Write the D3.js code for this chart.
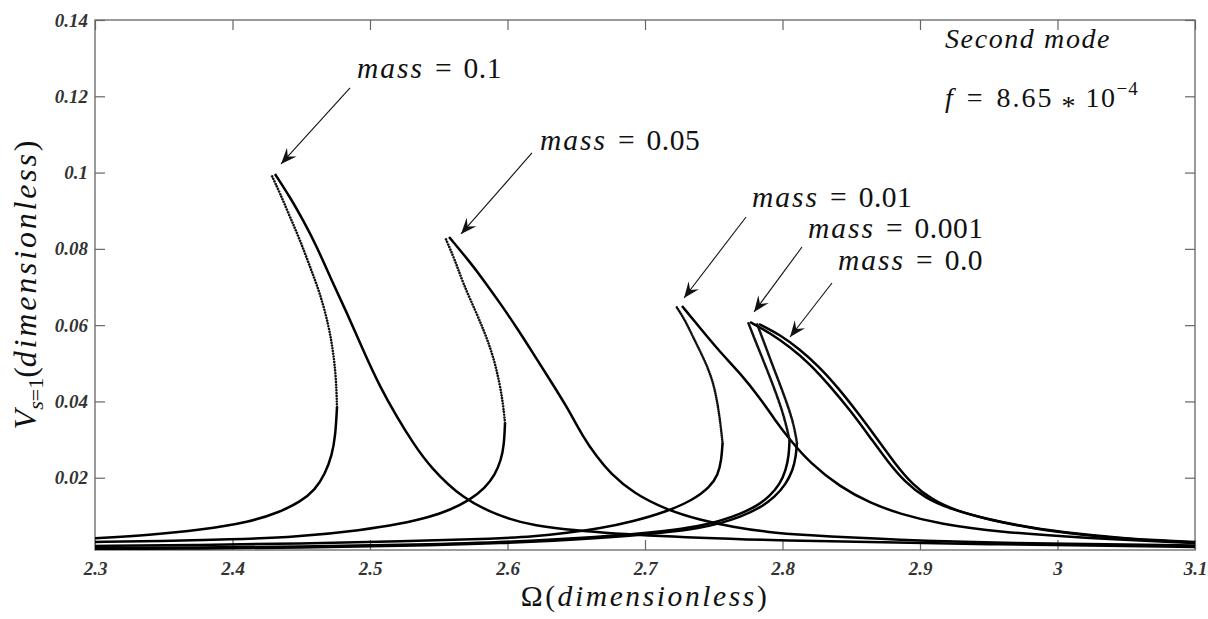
<!DOCTYPE html>
<head>
    <meta charset="utf-8">
    <title>Second mode - frequency response</title>
    <style>
        body { margin: 0; background: #fff; }
        svg { display: block; }
        .axis text { font-family: "Liberation Serif", "Times New Roman", serif; font-weight: bold; font-style: italic; font-size: 19px; fill: #333; }
        .axis line { stroke: #666; stroke-width: 1.2; }
        .axis path { display: none; }
        .tex { font-family: "Liberation Serif", "Times New Roman", serif; fill: #111; }
    </style>
</head>

<body>

<svg width="1208" height="619"></svg>

<script src="https://cdn.jsdelivr.net/npm/d3@7"></script>

<script>
    // tick values
    const xTicks = [2.3, 2.4, 2.5, 2.6, 2.7, 2.8, 2.9, 3.0, 3.1];
    const yTicks = [0.02, 0.04, 0.06, 0.08, 0.1, 0.12, 0.14];

    // [Omega, V]; each curve = lower stable, unstable (dotted), upper stable
    const mass01Lower = [[2.300, 0.00412], [2.340, 0.00498], [2.3764, 0.00629], [2.4127, 0.00839], [2.4345, 0.01101],
        [2.4491, 0.01363], [2.4600, 0.01678], [2.4673, 0.02098], [2.4724, 0.02596], [2.4749, 0.03120], [2.4760, 0.03854]];
    const mass01Unstable = [[2.4760, 0.03854], [2.4753, 0.04641], [2.4731, 0.05349], [2.4695, 0.06057], [2.4636, 0.06843],
        [2.4564, 0.07525], [2.4491, 0.08233], [2.4418, 0.08836], [2.4345, 0.09465], [2.4280, 0.09963]];
    const mass01Upper = [[2.4309, 0.09963], [2.4418, 0.09360], [2.4513, 0.08757], [2.4615, 0.08049], [2.4709, 0.07263],
        [2.4833, 0.06319], [2.4949, 0.05349], [2.5073, 0.04379], [2.5196, 0.03592], [2.5313, 0.02910], [2.5436, 0.02281],
        [2.5676, 0.01442], [2.5924, 0.01023], [2.6164, 0.00734], [2.6673, 0.00551], [2.7400, 0.00420], [2.8127, 0.00341],
        [2.9582, 0.00249], [3.1, 0.00184]];

    const mass005Lower = [[2.300, 0.00315], [2.3473, 0.00341], [2.3982, 0.00380], [2.4469, 0.00446], [2.4949, 0.00629],
        [2.5218, 0.00787], [2.5436, 0.00970], [2.5582, 0.01154], [2.5727, 0.01416], [2.5836, 0.01730], [2.5909, 0.02071],
        [2.5953, 0.02465], [2.5975, 0.02858], [2.5982, 0.03435]];
    const mass005Unstable = [[2.5982, 0.03435], [2.5967, 0.03959], [2.5938, 0.04562], [2.5895, 0.05191], [2.5836, 0.05794],
        [2.5764, 0.06397], [2.5676, 0.07105], [2.5618, 0.07708], [2.5545, 0.08311]];
    const mass005Upper = [[2.5575, 0.08311], [2.5727, 0.07656], [2.5836, 0.07132], [2.5945, 0.06581], [2.6069, 0.05926],
        [2.6185, 0.05270], [2.6309, 0.04562], [2.6433, 0.03854], [2.6549, 0.03068], [2.6651, 0.02543], [2.6745, 0.02124],
        [2.6913, 0.01599], [2.7160, 0.01154], [2.7400, 0.00891], [2.7640, 0.00708], [2.7887, 0.00577], [2.8127, 0.00498],
        [2.8855, 0.00367], [2.9582, 0.00288], [3.1, 0.00223]];

    const mass001Lower = [[2.300, 0.00210], [2.3764, 0.00236], [2.4491, 0.00275], [2.5218, 0.00328], [2.5945, 0.00406],
        [2.6185, 0.00459], [2.6433, 0.00551], [2.6673, 0.00669], [2.6913, 0.00852], [2.7160, 0.01114], [2.7349, 0.01416],
        [2.7473, 0.01757], [2.7531, 0.02071], [2.7556, 0.02465], [2.7564, 0.02910]];
    const mass001Unstable = [[2.7564, 0.02910], [2.7556, 0.03173], [2.7545, 0.03513], [2.7531, 0.03854], [2.7509, 0.04300],
        [2.7473, 0.04746], [2.7415, 0.05218], [2.7349, 0.05690], [2.7291, 0.06135], [2.7225, 0.06502]];
    const mass001Upper = [[2.7269, 0.06502], [2.7400, 0.05926], [2.7545, 0.05296], [2.7691, 0.04746], [2.7836, 0.04090],
        [2.7945, 0.03513], [2.8055, 0.02989], [2.8200, 0.02386], [2.8418, 0.01757], [2.8636, 0.01337], [2.8855, 0.01049],
        [2.9145, 0.00787], [2.9582, 0.00577], [3.0164, 0.00420], [3.1, 0.00288]];

    const mass0001Lower = [[2.300, 0.00157], [2.3764, 0.00170], [2.4491, 0.00197], [2.5218, 0.00236], [2.5945, 0.00302],
        [2.6673, 0.00446], [2.7160, 0.00603], [2.7400, 0.00734], [2.7545, 0.00865], [2.7691, 0.01049], [2.7815, 0.01259],
        [2.7909, 0.01521], [2.7982, 0.01835], [2.8025, 0.02202], [2.8047, 0.02596], [2.8051, 0.02989]];
    const mass0001Unstable = [[2.8051, 0.02989], [2.8025, 0.03408], [2.7989, 0.03854], [2.7931, 0.04431], [2.7865, 0.05034],
        [2.7800, 0.05611], [2.7749, 0.06083]];
    const mass0001Upper = [[2.7764, 0.06083], [2.7909, 0.05794], [2.8055, 0.05427], [2.8200, 0.04982], [2.8345, 0.04405],
        [2.8491, 0.03776], [2.8636, 0.03068], [2.8767, 0.02412], [2.8891, 0.01888], [2.9036, 0.01468], [2.9218, 0.01180],
        [2.9458, 0.00944], [2.9800, 0.00682], [3.0156, 0.00524], [3.0527, 0.00393], [3.1, 0.00315]];

    const mass0Lower = [[2.300, 0.00131], [2.3764, 0.00144], [2.4491, 0.00170], [2.5218, 0.00210], [2.5945, 0.00275],
        [2.6673, 0.00406], [2.7160, 0.00564], [2.7400, 0.00682], [2.7545, 0.00800], [2.7691, 0.00970], [2.7836, 0.01206],
        [2.7945, 0.01494], [2.8025, 0.01835], [2.8076, 0.02202], [2.8098, 0.02569], [2.8105, 0.02910]];
    const mass0Unstable = [[2.8105, 0.02910], [2.8084, 0.03356], [2.8047, 0.03802], [2.7989, 0.04379], [2.7924, 0.04982],
        [2.7865, 0.05558], [2.7815, 0.06030]];
    const mass0Upper = [[2.7829, 0.06030], [2.7985, 0.05742], [2.8122, 0.05375], [2.8262, 0.04929], [2.8406, 0.04352],
        [2.8544, 0.03723], [2.8690, 0.03015], [2.8820, 0.02360], [2.8942, 0.01835], [2.9088, 0.01416], [2.9268, 0.01127],
        [2.9505, 0.00891], [2.9840, 0.00655], [3.0178, 0.00498], [3.0549, 0.00380], [3.1, 0.00302]];

    const massLabels = ["0.1", "0.05", "0.01", "0.001", "0.0"];
    // annotation anchors in data units: label start, arrow tail, arrow head
    const labelAt = [[2.4905, 0.1248], [2.6236, 0.10593], [2.7778, 0.09098], [2.8185, 0.08285], [2.8404, 0.07446]];
    const arrowFrom = [[2.4855, 0.12218], [2.6178, 0.10514], [2.7735, 0.08836], [2.8142, 0.08049], [2.8360, 0.07105]];
    const arrowTo = [[2.4353, 0.10226], [2.5662, 0.08390], [2.7284, 0.06712], [2.7793, 0.06345], [2.8055, 0.05690]];

    const curves = [
        { lower: mass01Lower, unstable: mass01Unstable, upper: mass01Upper, dotGap: 2.8 },
        { lower: mass005Lower, unstable: mass005Unstable, upper: mass005Upper, dotGap: 2.8 },
        { lower: mass001Lower, unstable: mass001Unstable, upper: mass001Upper, dotGap: 2 },
        { lower: mass0001Lower, unstable: mass0001Unstable, upper: mass0001Upper, dotGap: 1.5 },
        { lower: mass0Lower, unstable: mass0Unstable, upper: mass0Upper, dotGap: 1.5 }
    ];

    const svg = d3.select("svg");
    const margin = { top: 20, right: 13, bottom: 69, left: 95 };
    const width = svg.attr("width") - margin.left - margin.right;
    const height = svg.attr("height") - margin.top - margin.bottom;

    const x = d3.scaleLinear().domain([2.3, 3.1]).range([0, width]);
    const y = d3.scaleLinear().domain([0.00105, 0.14]).range([height, 0]);

    const g = svg.append("g")
        .attr("transform", `translate(${margin.left},${margin.top})`);

    const defs = svg.append("defs");
    defs.append("clipPath").attr("id", "plot")
        .append("rect").attr("width", width).attr("height", height);
    defs.append("marker")
        .attr("id", "head")
        .attr("viewBox", "-17 -7 18 14")
        .attr("markerUnits", "userSpaceOnUse")
        .attr("markerWidth", 18).attr("markerHeight", 14)
        .attr("refX", 0).attr("refY", 0)
        .attr("orient", "auto")
        .append("path")
        .attr("d", "M0,0 L-16,-6.5 L-10,0 L-16,6.5 Z")
        .attr("fill", "#111");

    // axes, ticks pointing inward on all four sides
    const fmt = d3.format("~g");
    g.append("g").attr("class", "axis")
        .attr("transform", `translate(0,${height})`)
        .call(d3.axisBottom(x).tickValues(xTicks).tickSizeInner(-10).tickSizeOuter(0).tickPadding(12).tickFormat(fmt));
    g.append("g").attr("class", "axis")
        .call(d3.axisTop(x).tickValues(xTicks).tickSizeInner(-10).tickSizeOuter(0).tickFormat(""));
    g.append("g").attr("class", "axis")
        .call(d3.axisLeft(y).tickValues(yTicks).tickSizeInner(-10).tickSizeOuter(0).tickPadding(7).tickFormat(fmt));
    g.append("g").attr("class", "axis")
        .attr("transform", `translate(${width},0)`)
        .call(d3.axisRight(y).tickValues(yTicks).tickSizeInner(-10).tickSizeOuter(0).tickFormat(""));

    g.append("rect")
        .attr("width", width).attr("height", height)
        .attr("fill", "none").attr("stroke", "#666").attr("stroke-width", 1.3);

    const line = d3.line()
        .x(d => x(d[0]))
        .y(d => y(d[1]))
        .curve(d3.curveBasis);

    const plot = g.append("g").attr("clip-path", "url(#plot)");

    curves.forEach(c => {
        [c.lower, c.upper].forEach(branch => {
            plot.append("path")
                .attr("d", line(branch))
                .attr("fill", "none")
                .attr("stroke", "#000")
                .attr("stroke-width", 2.5)
                .attr("stroke-linejoin", "round");
        });
        plot.append("path")
            .attr("d", line(c.unstable))
            .attr("fill", "none")
            .attr("stroke", "#111")
            .attr("stroke-width", 2.6)
            .attr("stroke-linecap", "round")
            .attr("stroke-dasharray", `0.01 ${c.dotGap}`);
    });

    // arrows and mass labels
    massLabels.forEach((m, i) => {
        g.append("line")
            .attr("x1", x(arrowFrom[i][0])).attr("y1", y(arrowFrom[i][1]))
            .attr("x2", x(arrowTo[i][0])).attr("y2", y(arrowTo[i][1]))
            .attr("stroke", "#111").attr("stroke-width", 1.1)
            .attr("marker-end", "url(#head)");

        const t = g.append("text").attr("class", "tex")
            .attr("x", x(labelAt[i][0])).attr("y", y(labelAt[i][1]))
            .style("font-family", "'Liberation Serif', serif")
            .style("font-size", "29.5px");
        t.append("tspan").style("font-style", "italic").style("letter-spacing", "2px").text("mass");
        t.append("tspan").attr("dx", 11).text("=");
        t.append("tspan").attr("dx", 12).style("letter-spacing", "0.5px").text(m);
    });

    // top-right notes
    g.append("text").attr("class", "tex")
        .attr("x", x(2.9182)).attr("y", y(0.13267))
        .style("font-family", "'Liberation Serif', serif")
        .style("font-size", "28px").style("font-style", "italic").style("letter-spacing", "1.6px")
        .text("Second mode");

    const fNote = g.append("text").attr("class", "tex")
        .attr("x", x(2.9182)).attr("y", y(0.1172))
        .style("font-family", "'Liberation Serif', serif")
        .style("font-size", "28px");
    fNote.append("tspan").style("font-style", "italic").text("f");
    fNote.append("tspan").attr("dx", 14).text("=");
    fNote.append("tspan").attr("dx", 14).style("letter-spacing", "2px").text("8.65");
    fNote.append("tspan").attr("dx", 8).attr("dy", 8).text("*");
    fNote.append("tspan").attr("dx", 10).attr("dy", -8).style("letter-spacing", "1.5px").text("10");
    fNote.append("tspan").attr("dy", -12).style("font-size", "19px").style("letter-spacing", "1px").text("−4");

    // axis titles
    const xTitle = g.append("text").attr("class", "tex")
        .attr("x", width / 2).attr("y", height + 56)
        .attr("text-anchor", "middle")
        .style("font-family", "'Liberation Serif', serif")
        .style("font-size", "29.5px").style("letter-spacing", "2.6px");
    xTitle.append("tspan").text("Ω(");
    xTitle.append("tspan").style("font-style", "italic").text("dimensionless");
    xTitle.append("tspan").text(")");

    const yTitle = g.append("text").attr("class", "tex")
        .attr("transform", `translate(${36 - margin.left},${height / 2}) rotate(-90)`)
        .attr("text-anchor", "middle")
        .style("font-family", "'Liberation Serif', serif")
        .style("font-size", "32px");
    yTitle.append("tspan").style("font-style", "italic").text("V");
    yTitle.append("tspan").attr("dy", 7).style("font-size", "22px").style("font-style", "italic").text("s");
    yTitle.append("tspan").style("font-size", "22px").text("=1");
    yTitle.append("tspan").attr("dy", -7).text("(");
    yTitle.append("tspan").style("font-style", "italic").style("letter-spacing", "2.8px").text("dimensionless");
    yTitle.append("tspan").text(")");

</script>

</body>
